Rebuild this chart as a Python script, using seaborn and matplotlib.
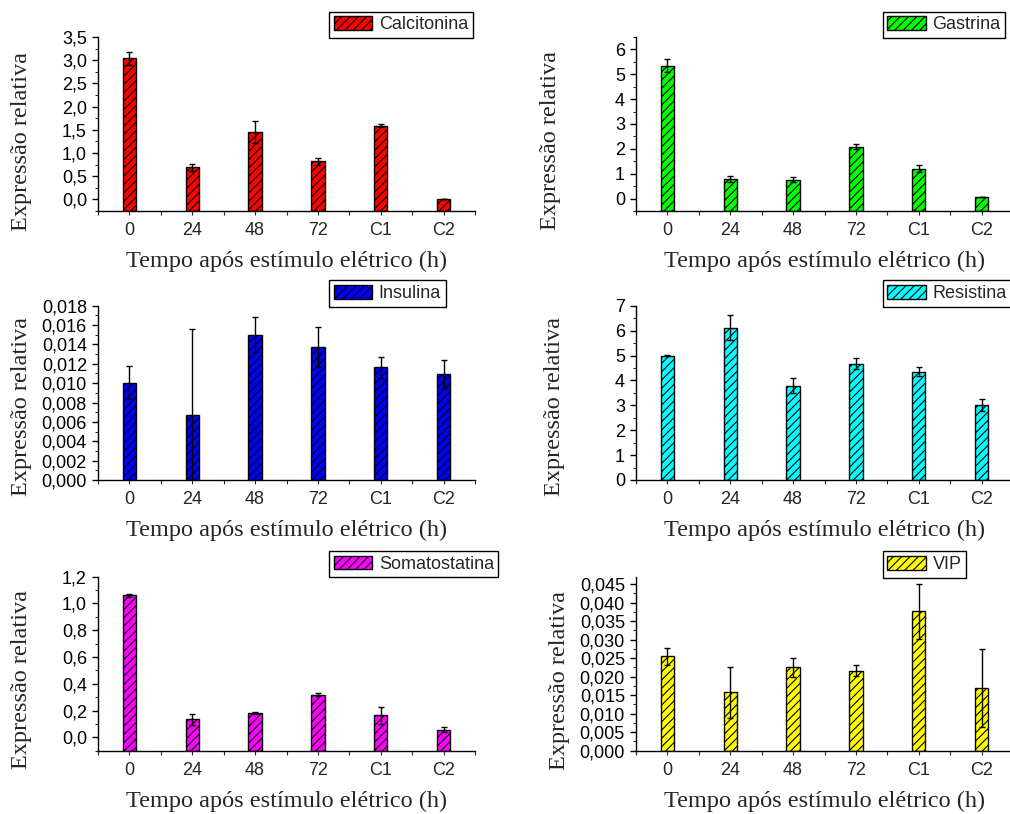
import numpy as np
import pandas as pd
import seaborn as sns
import matplotlib
matplotlib.use("Agg")
import matplotlib.pyplot as plt
import matplotlib.patches as mpatches
from matplotlib.ticker import MultipleLocator, FuncFormatter, FixedLocator

# ---------------- data ----------------
categories = ["0", "24", "48", "72", "C1", "C2"]

calcitonina = [3.04, 0.69, 1.445, 0.82, 1.59, 0.0]
calcitonina_err = [0.14, 0.08, 0.235, 0.07, 0.04, 0.0]

gastrina = [5.34, 0.78, 0.76, 2.09, 1.20, 0.05]
gastrina_err = [0.26, 0.13, 0.11, 0.09, 0.14, 0.0]

insulina = [0.01005, 0.0067, 0.0150, 0.01373, 0.01163, 0.01091]
insulina_err = [0.0017, 0.0089, 0.0018, 0.0021, 0.0011, 0.00145]

resistina = [4.99, 6.12, 3.79, 4.67, 4.35, 3.01]
resistina_err = [0.02, 0.51, 0.29, 0.21, 0.17, 0.24]

somatostatina = [1.061, 0.134, 0.181, 0.318, 0.164, 0.057]
somatostatina_err = [0.012, 0.042, 0.008, 0.012, 0.065, 0.018]

vip = [0.02545, 0.01573, 0.02255, 0.02164, 0.03764, 0.0170]
vip_err = [0.0022, 0.0069, 0.0026, 0.0015, 0.0074, 0.0106]

names = ["Calcitonina", "Gastrina", "Insulina", "Resistina", "Somatostatina", "VIP"]
xlabel = "Tempo após estímulo elétrico (h)"
ylabel = "Expressão relativa"

# ---------------- style ----------------
sns.set_style("ticks")
plt.rcParams["font.family"] = ["Liberation Sans", "DejaVu Sans"]
plt.rcParams["hatch.linewidth"] = 0.8
plt.rcParams["axes.linewidth"] = 1.0

W, H = 1010, 814
fig = plt.figure(figsize=(W / 100, H / 100), dpi=100)

# panel specs: values, errors, color, ylim, major, minor, decimals, rect(px), ylabel coords, legend x
panels = [
    (calcitonina, calcitonina_err, "#FF0000", (-0.25, 3.5), 0.5, 0.25, 1, (98, 37, 475, 211), (-0.2016, 0.402), 0.613),
    (gastrina, gastrina_err, "#00FF00", (-0.5, 6.5), 1, 0.5, 0, (636, 37, 1013, 211), (-0.2255, 0.403), 0.655),
    (insulina, insulina_err, "#0000FF", (0.0, 0.018), 0.002, 0.001, 3, (98, 305.7, 475, 480), (-0.2016, 0.42), 0.613),
    (resistina, resistina_err, "#00FFFF", (0.0, 7.0), 1, 0.5, 0, (636, 305.7, 1013, 480), (-0.215, 0.42), 0.655),
    (somatostatina, somatostatina_err, "#FF00FF", (-0.1, 1.2), 0.2, 0.1, 1, (98, 576.5, 475, 750.7), (-0.2016, 0.406), 0.613),
    (vip, vip_err, "#FFFF00", (0.0, 0.047), 0.005, 0.0025, 3, (636, 576.7, 1013, 750.7), (-0.2016, 0.406), 0.655),
]

for name, (vals, errs, color, ylim, major, minor, dec, rect, ylc, legx) in zip(names, panels):
    x0, y0, x1, y1 = rect
    ax = fig.add_axes([x0 / W, 1 - y1 / H, (x1 - x0) / W, (y1 - y0) / H])
    df = pd.DataFrame({"cat": categories, "val": vals})
    sns.barplot(data=df, x="cat", y="val", order=categories, color=color,
                saturation=1, width=0.21, edgecolor="black", linewidth=1,
                hatch="////", errorbar=None, ax=ax)
    ax.set_ylim(*ylim)
    ax.set_xlim(-0.5, 5.5)
    # bars start at the bottom of the axis (as in the original)
    for p in ax.patches:
        h = p.get_y() + p.get_height()
        p.set_y(ylim[0])
        p.set_height(h - ylim[0])
    ax.errorbar(np.arange(len(categories)), vals, yerr=errs, fmt="none",
                ecolor="black", elinewidth=1, capsize=2.2, capthick=1, zorder=5)

    ax.yaxis.set_major_locator(MultipleLocator(major))
    ax.yaxis.set_minor_locator(MultipleLocator(minor))
    ax.yaxis.set_major_formatter(FuncFormatter(
        lambda v, pos, d=dec: f"{v:.{d}f}".replace(".", ",")))
    ax.xaxis.set_minor_locator(FixedLocator(np.arange(-0.5, 6.0, 1.0)))

    ax.tick_params(axis="y", which="major", direction="out", length=4, width=1,
                   labelsize=13, pad=4, colors="black")
    ax.tick_params(axis="y", which="minor", direction="out", length=2.2, width=0.8)
    ax.tick_params(axis="x", which="both", direction="out", length=3, width=0.8,
                   labelsize=13, pad=5)
    sns.despine(ax=ax)
    for s in ("left", "bottom"):
        ax.spines[s].set_color("black")
        ax.spines[s].set_linewidth(1.0)

    ax.set_xlabel(xlabel, fontsize=17.5, fontfamily="Liberation Serif", va="center")
    ax.xaxis.set_label_coords(0.5, -0.29)
    ax.set_ylabel(ylabel, fontsize=17.5, fontfamily="Liberation Serif", va="center")
    ax.yaxis.set_label_coords(*ylc)

    handle = mpatches.Patch(facecolor=color, edgecolor="black", hatch="////",
                            linewidth=1, label=name)
    leg = ax.legend(handles=[handle], loc="lower left", bbox_to_anchor=(legx, 0.995),
                    frameon=True, fancybox=False, edgecolor="black", framealpha=1,
                    fontsize=13, handlelength=2.15, handleheight=0.8,
                    borderpad=0.25, handletextpad=0.35, borderaxespad=0)
    leg.get_frame().set_linewidth(1.0)

fig.savefig("out.png", dpi=100)
